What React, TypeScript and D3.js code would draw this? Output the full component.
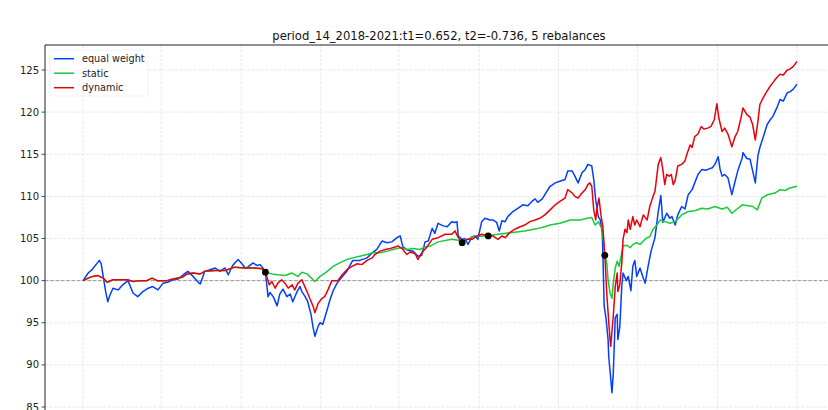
import React from 'react';
import * as d3 from 'd3';

const TITLE = 'period_14_2018-2021:t1=0.652, t2=-0.736, 5 rebalances';
const START = new Date(2018, 0, 1);
const END_DAY = 1096;
const SERIES_NAMES = ['equal weight', 'static', 'dynamic'];
const SERIES_COLORS = ['#023eff', '#1ac938', '#e8000b'];
const Y_TICKS = [85, 90, 95, 100, 105, 110, 115, 120, 125];
const BASELINE = 100;

// [days since 2018-01-01, value]
const equalWeight: [number, number][] = [
  [0, 100.0], [8, 100.9], [15, 101.4], [23, 102.2], [25, 102.4], [28, 102.0], [31, 100.5], [35, 98.6], [38, 97.5], [41, 98.2],
  [46, 99.1], [54, 98.9], [61, 99.5], [69, 100.0], [77, 98.5], [84, 98.1], [92, 98.7], [100, 99.1], [107, 99.3], [115, 98.9],
  [123, 99.7], [130, 99.8], [138, 100.1], [146, 100.2], [154, 100.7], [161, 101.1], [169, 100.5], [177, 99.8], [180, 99.6], [187, 101.1],
  [195, 101.3], [203, 101.5], [210, 101.1], [218, 101.5], [223, 100.7], [229, 101.7], [233, 102.1], [238, 102.5], [244, 102.0], [249, 101.5],
  [253, 101.6], [261, 102.1], [267, 101.8], [272, 101.9], [276, 101.5], [280, 101.0], [282, 99.6], [284, 98.1], [287, 98.6], [292, 98.1],
  [298, 97.0], [302, 98.4], [307, 99.0], [313, 98.1], [318, 98.4], [322, 97.5], [328, 98.6], [333, 99.3], [336, 98.7], [341, 98.1],
  [345, 97.5], [350, 96.0], [353, 94.5], [356, 93.4], [361, 94.6], [364, 95.0], [368, 94.8], [375, 96.6], [379, 97.7], [384, 98.8],
  [390, 99.7], [394, 100.1], [405, 101.1], [414, 102.4], [425, 102.4], [436, 102.7], [444, 103.3], [451, 103.7], [459, 104.7], [467, 104.5],
  [474, 104.6], [482, 105.1], [487, 105.3], [491, 104.0], [499, 103.6], [507, 103.5], [514, 102.9], [520, 103.0], [525, 104.6], [530, 104.7],
  [536, 106.2], [540, 105.6], [545, 106.8], [553, 106.5], [559, 106.4], [566, 107.0], [571, 106.9], [574, 107.0], [576, 105.3], [582, 104.9],
  [586, 105.0], [591, 104.3], [597, 105.2], [602, 105.3], [606, 104.9], [612, 107.0], [617, 107.4], [625, 107.2], [629, 107.2], [635, 106.9],
  [639, 105.9], [643, 107.1], [648, 107.0], [652, 107.6], [660, 108.2], [668, 108.6], [675, 109.0], [683, 108.9], [689, 109.4], [694, 109.7],
  [698, 109.3], [705, 109.7], [709, 110.2], [717, 111.2], [725, 111.6], [732, 111.8], [740, 112.0], [744, 113.0], [751, 113.0], [755, 112.4],
  [760, 111.6], [766, 112.8], [771, 113.2], [775, 113.8], [781, 113.6], [784, 112.0], [787, 109.6], [791, 107.6], [794, 107.2], [797, 105.7],
  [798, 103.3], [800, 97.0], [803, 95.4], [806, 93.0], [807, 91.0], [812, 86.7], [814, 89.0], [817, 95.6], [820, 96.0], [821, 93.0],
  [824, 94.5], [827, 99.3], [829, 100.9], [834, 100.0], [837, 100.5], [841, 98.8], [844, 101.7], [847, 102.4], [850, 100.5], [855, 101.5],
  [860, 100.3], [863, 99.7], [867, 101.5], [872, 103.5], [878, 105.1], [883, 108.2], [887, 110.1], [890, 106.9], [896, 108.0], [901, 107.4],
  [904, 107.6], [909, 106.6], [913, 107.8], [919, 108.8], [924, 108.5], [929, 110.2], [935, 110.8], [939, 111.6], [944, 112.6], [950, 113.2],
  [955, 113.1], [959, 113.2], [966, 113.4], [970, 113.8], [975, 114.7], [978, 113.2], [981, 112.4], [985, 112.6], [990, 112.2], [996, 110.2],
  [1001, 111.8], [1005, 113.0], [1012, 114.6], [1013, 115.2], [1019, 114.5], [1024, 114.4], [1028, 113.0], [1032, 111.6], [1036, 114.8], [1039, 115.8],
  [1044, 117.0], [1050, 118.5], [1055, 119.1], [1059, 119.5], [1065, 120.5], [1070, 121.5], [1075, 121.3], [1081, 122.3], [1085, 122.4], [1090, 122.7],
  [1096, 123.3],
];

const staticWeight: [number, number][] = [
  [0, 100.0], [8, 100.3], [15, 100.5], [23, 100.6], [31, 100.3], [37, 99.8], [46, 100.1], [57, 100.1], [68, 100.1], [77, 99.9],
  [87, 100.0], [98, 100.0], [106, 100.3], [114, 100.0], [123, 100.0], [129, 100.0], [138, 100.2], [152, 100.4], [160, 100.8], [169, 100.9],
  [180, 100.8], [187, 101.1], [203, 101.2], [218, 101.2], [233, 101.6], [249, 101.5], [264, 101.5], [275, 101.4], [280, 101.0],
  [290, 100.8], [299, 100.7], [310, 100.6], [321, 100.9], [330, 100.5], [336, 101.0], [344, 100.8], [352, 100.2], [356, 99.9], [364, 100.5],
  [375, 101.1], [384, 101.7], [394, 102.1], [405, 102.5], [414, 102.7], [425, 102.9], [436, 103.1], [445, 103.3], [456, 103.3], [467, 103.5],
  [476, 103.7], [487, 103.9], [497, 103.7], [507, 103.8], [517, 103.7], [525, 104.0], [533, 104.1], [545, 104.6], [566, 104.9], [576, 104.8],
  [582, 104.5], [597, 105.2], [617, 105.3], [637, 105.5], [659, 105.7], [678, 105.9], [698, 106.2], [709, 106.4], [717, 106.6], [732, 106.8],
  [748, 107.2], [763, 107.2], [774, 107.4], [781, 107.5], [786, 106.6], [791, 107.0], [797, 106.1], [801, 103.0], [804, 102.1], [806, 100.1],
  [809, 98.5], [812, 97.9], [814, 99.7], [817, 101.5], [820, 102.3], [823, 101.7], [827, 103.3], [829, 104.1], [835, 104.2], [840, 103.9],
  [844, 104.3], [850, 104.5], [855, 104.3], [860, 104.7], [866, 105.1], [870, 105.2], [875, 106.1], [881, 106.6], [886, 107.2], [893, 107.0],
  [901, 106.8], [909, 107.0], [919, 107.8], [929, 108.2], [939, 108.3], [950, 108.6], [959, 108.5], [970, 108.8], [981, 108.5], [989, 108.7],
  [996, 108.0], [1004, 108.5], [1012, 109.0], [1021, 108.9], [1028, 108.8], [1035, 108.4], [1042, 109.8], [1051, 110.2], [1062, 110.4], [1070, 110.8],
  [1078, 110.7], [1085, 111.0], [1096, 111.2],
];

const dynamicWeight: [number, number][] = [
  [0, 100.0], [8, 100.3], [15, 100.5], [23, 100.6], [31, 100.3], [37, 99.8], [46, 100.1], [57, 100.1], [68, 100.1], [77, 99.9],
  [87, 100.0], [98, 100.0], [106, 100.3], [114, 100.0], [123, 100.0], [129, 100.0], [138, 100.2], [152, 100.4], [160, 100.8], [169, 100.9],
  [180, 100.8], [187, 101.1], [203, 101.2], [218, 101.2], [233, 101.6], [249, 101.5], [264, 101.5], [275, 101.4], [280, 101.0],
  [282, 100.5], [286, 99.5], [290, 99.9], [295, 99.1], [299, 99.7], [305, 100.1], [310, 99.7], [315, 99.1], [321, 99.5], [325, 98.9],
  [330, 99.7], [336, 100.1], [341, 99.2], [345, 98.5], [348, 97.9], [353, 97.0], [356, 96.2], [361, 97.3], [367, 97.9], [371, 98.1],
  [376, 98.9], [382, 100.0], [387, 100.0], [391, 100.0], [398, 100.7], [405, 101.3], [413, 101.7], [421, 102.0], [428, 101.9], [436, 102.4],
  [444, 102.7], [448, 103.1], [456, 103.5], [464, 103.7], [471, 103.8], [479, 104.0], [484, 104.1], [490, 103.8], [497, 103.1], [502, 103.4],
  [510, 103.2], [514, 102.5], [520, 103.3], [528, 104.0], [536, 104.9], [545, 105.1], [556, 105.5], [566, 105.5], [571, 105.9], [576, 105.1],
  [582, 104.5], [589, 104.9], [597, 104.9], [605, 105.3], [612, 105.5], [622, 105.3], [629, 105.3], [637, 104.9], [643, 105.3], [648, 105.1],
  [655, 105.7], [663, 106.1], [671, 106.4], [678, 106.6], [686, 107.0], [694, 107.2], [701, 107.4], [709, 107.8], [717, 108.4], [725, 109.0],
  [732, 109.4], [740, 109.8], [744, 110.8], [751, 110.4], [755, 110.0], [760, 109.8], [766, 110.4], [771, 110.8], [775, 111.4], [778, 111.6],
  [781, 111.2], [784, 108.4], [787, 107.2], [789, 108.6], [792, 109.8], [795, 107.8], [798, 106.4], [801, 103.0], [804, 98.5], [806, 96.2],
  [809, 93.0], [810, 92.2], [814, 95.8], [817, 99.3], [820, 100.9], [821, 98.7], [824, 99.5], [827, 102.1], [829, 104.9], [832, 106.1],
  [835, 105.7], [837, 107.2], [840, 106.1], [844, 107.6], [847, 106.6], [850, 107.2], [855, 106.4], [860, 107.8], [866, 107.2], [870, 108.8],
  [875, 110.0], [878, 110.6], [883, 113.8], [887, 114.6], [890, 113.2], [893, 111.4], [896, 112.6], [900, 112.4], [903, 112.6], [906, 111.4],
  [909, 111.9], [913, 113.6], [919, 113.8], [924, 114.2], [927, 115.0], [932, 116.1], [935, 115.8], [939, 117.1], [944, 117.4], [949, 118.3],
  [953, 118.0], [959, 118.1], [964, 118.3], [969, 119.1], [973, 121.0], [976, 119.3], [981, 117.7], [985, 118.1], [990, 117.4], [996, 115.9],
  [1001, 117.1], [1005, 117.7], [1010, 119.3], [1013, 120.5], [1019, 119.7], [1024, 119.4], [1028, 118.5], [1032, 116.7], [1036, 118.9], [1039, 120.9],
  [1044, 121.7], [1050, 122.5], [1055, 123.1], [1059, 123.5], [1065, 124.1], [1070, 124.5], [1075, 124.4], [1081, 125.0], [1085, 125.1], [1090, 125.4],
  [1096, 126.0],
];

const rebalancePoints: [number, number][] = [[280, 101.0], [582, 104.5], [622, 105.3], [801, 103.0]];

const W = 828;
const H = 410;
const AX_LEFT = 45;
const AX_TOP = 45;
const AX_RIGHT = 833;
const FONT = 'DejaVu Sans, sans-serif';

const toDate = (d: number) => d3.timeDay.offset(START, d);

export default function App() {
  const x = d3.scaleTime().domain([START, toDate(END_DAY)]).range([83, 797]);
  const y = d3.scaleLinear().domain([85, 125]).range([407, 70]);
  const line = d3
    .line<[number, number]>()
    .x((d) => x(toDate(d[0])))
    .y((d) => y(d[1]));
  const xTicks = x.ticks(d3.timeMonth.every(4) as d3.TimeInterval);
  const series = [equalWeight, staticWeight, dynamicWeight];

  return (
    <svg
      width={W}
      height={H}
      style={{ position: 'absolute', left: 0, top: 0, display: 'block', background: '#fff' }}
      fontFamily={FONT}
    >
      <rect x={0} y={0} width={W} height={H} fill="#fff" />
      {/* grid */}
      {xTicks.map((t, i) => (
        <line key={'gx' + i} x1={x(t)} x2={x(t)} y1={AX_TOP} y2={H} stroke="#e2e2e2" strokeWidth={0.8} strokeDasharray="3,1.5" />
      ))}
      {Y_TICKS.map((v) => (
        <line key={'gy' + v} x1={AX_LEFT} x2={W} y1={y(v)} y2={y(v)} stroke="#e2e2e2" strokeWidth={0.8} strokeDasharray="3,1.5" />
      ))}
      {/* baseline */}
      <line x1={AX_LEFT} x2={W} y1={y(BASELINE)} y2={y(BASELINE)} stroke="#999" strokeWidth={1} strokeDasharray="3.7,1.6" />
      {/* series */}
      {series.map((s, i) => (
        <path key={'s' + i} d={line(s) || ''} fill="none" stroke={SERIES_COLORS[i]} strokeWidth={1.5} strokeLinejoin="round" />
      ))}
      {rebalancePoints.map((p, i) => (
        <circle key={'r' + i} cx={x(toDate(p[0]))} cy={y(p[1])} r={3.4} fill="#000" />
      ))}
      {/* spines */}
      <line x1={AX_LEFT} x2={AX_LEFT} y1={AX_TOP} y2={H} stroke="#222" strokeWidth={1} />
      <line x1={AX_LEFT} x2={AX_RIGHT} y1={AX_TOP} y2={AX_TOP} stroke="#222" strokeWidth={1} />
      {/* y ticks */}
      {Y_TICKS.map((v) => (
        <g key={'ty' + v}>
          <line x1={AX_LEFT - 3.5} x2={AX_LEFT} y1={y(v)} y2={y(v)} stroke="#222" strokeWidth={0.8} />
          <text x={AX_LEFT - 6} y={y(v)} dy="0.35em" textAnchor="end" fontSize={10} fill="#222">
            {v}
          </text>
        </g>
      ))}
      {/* title */}
      <text x={(AX_LEFT + AX_RIGHT) / 2} y={AX_TOP - 5.5} textAnchor="middle" fontSize={11.6} fill="#111">
        {TITLE}
      </text>
      {/* legend */}
      <g>
        <rect x={50} y={50} width={98} height={46} rx={2} fill="#fff" fillOpacity={0.8} stroke="#f0f0f0" strokeWidth={0.8} />
        {SERIES_NAMES.map((n, i) => (
          <g key={'l' + i} transform={`translate(0, ${58.7 + i * 14.5})`}>
            <line x1={54} x2={74} y1={0} y2={0} stroke={SERIES_COLORS[i]} strokeWidth={1.5} />
            <text x={82} y={0} dy="0.35em" fontSize={9.7} fill="#222">
              {n}
            </text>
          </g>
        ))}
      </g>
    </svg>
  );
}
